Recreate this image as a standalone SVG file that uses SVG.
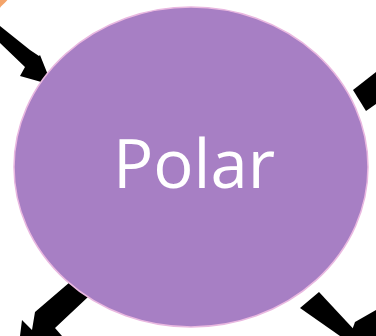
<svg xmlns="http://www.w3.org/2000/svg" width="376" height="336" viewBox="0 0 376 336">
<style>
.arrow{fill:#000}
.label{font-family:"Open Sans","Liberation Sans",sans-serif;font-size:67px;fill:#fff}
</style>
<rect width="376" height="336" fill="#fff"/>
<g id="orange-node">
<circle cx="-40" cy="-40" r="62" fill="#f4a46a"/>
</g>
<g id="connectors">
<polygon class="arrow" points="0,26 30,50 39,56 40,55 52,85 20,76 25,67 0,43"/>
<polygon class="arrow" points="353,90 376,72 376,104 366,111"/>
<polygon class="arrow" points="70,282 88,297 55,328 62,336 20,336 22,320 32,330 35,312"/>
<polygon class="arrow" points="300,308 319,292 360,336 340,336"/>
<polygon class="arrow" points="355,322 376,310 376,336 350,336"/>
</g>
<g id="polar">
<ellipse cx="191" cy="167" rx="177" ry="160" fill="#a77fc4" stroke="#e9b8e0" stroke-width="1.5"/>
<text class="label" x="194" y="188" text-anchor="middle">Polar</text>
</g>
</svg>
